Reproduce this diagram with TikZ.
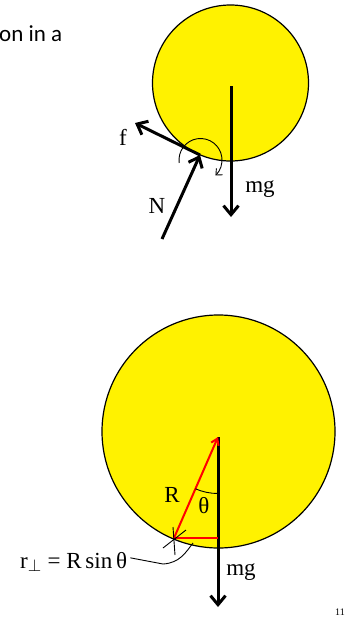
\documentclass[tikz,border=0pt]{standalone}
\usepackage{fontspec}
\setmainfont{Liberation Serif}
\newfontfamily\calib{Carlito}
\usetikzlibrary{arrows.meta}
\begin{document}
\begin{tikzpicture}[x=1pt,y=-1pt,
  ball/.style={circle, draw=black, line width=1.2pt, fill=yellow, inner sep=0pt},
  force/.style={line width=3pt, -{Straight Barb[length=9pt,width=15pt]}},
  redline/.style={draw=red, line width=2pt},
  thin/.style={line width=0.9pt},
  lab/.style={font=\fontsize{23}{27}\selectfont, inner sep=0pt}]
\useasboundingbox (0,0) rectangle (345,621);
% heading fragment
\node[anchor=base west, inner sep=0pt, font=\calib\fontsize{23}{27}\selectfont] (head) at (-1,41) {on in a};
% ---------- top ball ----------
\node[ball, minimum size=156pt] (ball1) at (230.5,83) {};
\coordinate (g1s) at (231,86);
\coordinate (g1e) at (231,217);
\coordinate (P1) at (200,155);
\coordinate (ftip) at (135,123);
\coordinate (Nst) at (162,239);
\coordinate (rc1) at (200.5,160);
\draw[force] (g1s) -- (g1e);
\draw[force] (P1) -- (ftip);
\draw[force] (Nst) -- (P1);
\draw[thin, -{Straight Barb[length=5pt,width=9pt]}] ([shift={(-188:21.5)}]rc1) arc[start angle=-188, end angle=46, radius=21.5];
\node[lab] (flab) at (123,137) {f};
\node[lab] (Nlab) at (157,206) {N};
\node[lab] (mg1) at (260,189) {mg};
% ---------- bottom ball ----------
\node[ball, minimum size=233pt] (ball2) at (218.5,431.5) {};
\coordinate (O2) at (218,437);
\coordinate (Q) at (174,538);
\coordinate (H) at (218,538);
\coordinate (g2e) at (218,607);
\draw[force] (O2) -- (g2e);
\draw[redline] (Q) -- (H);
\draw[redline, -{Straight Barb[length=6pt,width=8pt]}] (Q) -- (O2);
\draw[thin] ([shift={(90:56.5)}]O2) arc[start angle=90, end angle=113.5, radius=56.5];
\draw[thin] (173,527) -- (175,555);
\draw[thin] (163,548) -- (186,530);
\node[lab] (Rlab) at (172,495) {R};
\node[lab] (thlab) at (204,506) {θ};
\node[lab] (mg2) at (241,572) {mg};
\node[lab, anchor=base west] (eq) at (20,568) {r$_\perp$ = R\,sin\,θ};
\coordinate (callend) at (193,543);
\draw[thin] (eq.east) ++(3,-4) coordinate (callst) -- (163,564) .. controls (180,563) and (186,552) .. (callend);
\node[anchor=base west, inner sep=0pt, font=\fontsize{10}{11}\selectfont] (pnum) at (335,615) {11};
\end{tikzpicture}
\end{document}
